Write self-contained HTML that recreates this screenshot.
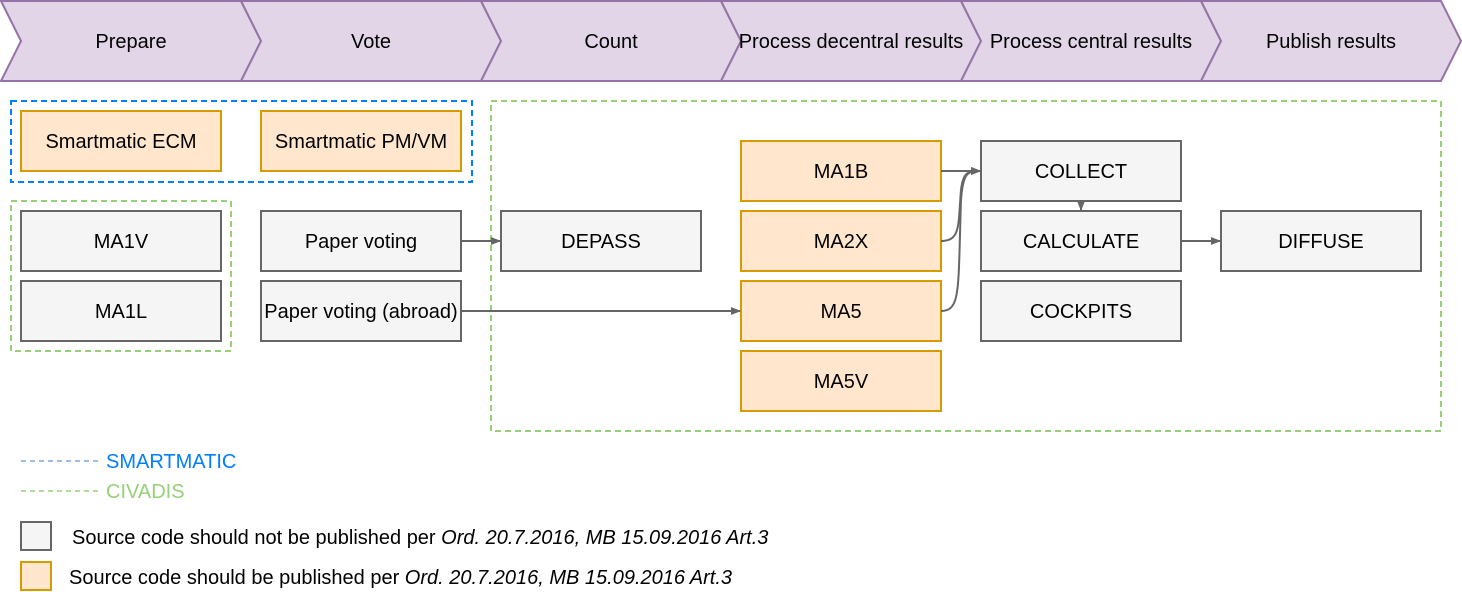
<!DOCTYPE html>
<html><head><meta charset="utf-8"><style>
html,body{margin:0;padding:0;background:#fff}
svg{display:block}
text{font-family:"Liberation Sans",Arial,sans-serif;font-size:20px;fill:#000}
</style></head><body>
<svg width="1462" height="592" viewBox="0 0 1462 592" xmlns="http://www.w3.org/2000/svg">
<defs>
<marker id="a" markerWidth="10" markerHeight="8" refX="9" refY="4" orient="auto" markerUnits="userSpaceOnUse">
<path d="M0,0 L10,4 L0,8 Z" fill="#666"/></marker>
</defs>
<g fill="#e1d5e7" stroke="#9673a6" stroke-width="2">
<polygon points="1,1 241,1 261,41 241,81 1,81 21,41"/>
<polygon points="241,1 481,1 501,41 481,81 241,81 261,41"/>
<polygon points="481,1 721,1 741,41 721,81 481,81 501,41"/>
<polygon points="721,1 961,1 981,41 961,81 721,81 741,41"/>
<polygon points="961,1 1201,1 1221,41 1201,81 961,81 981,41"/>
<polygon points="1201,1 1441,1 1461,41 1441,81 1201,81 1221,41"/>
</g>
<g text-anchor="middle">
<text x="131" y="48">Prepare</text>
<text x="371" y="48">Vote</text>
<text x="611" y="48">Count</text>
<text x="851" y="48">Process decentral results</text>
<text x="1091" y="48">Process central results</text>
<text x="1331" y="48">Publish results</text>
</g>
<rect x="11" y="101" width="461" height="81" fill="none" stroke="#007fff" stroke-width="2" stroke-dasharray="6,4"/>
<rect x="11" y="201" width="220" height="150" fill="none" stroke="#97d077" stroke-width="2" stroke-dasharray="6,4"/>
<rect x="491" y="101" width="950" height="330" fill="none" stroke="#97d077" stroke-width="2" stroke-dasharray="6,4"/>
<g fill="#ffe6cc" stroke="#d79b00" stroke-width="2">
<rect x="21" y="111" width="200" height="60"/>
<rect x="261" y="111" width="200" height="60"/>
<rect x="741" y="141" width="200" height="60"/>
<rect x="741" y="211" width="200" height="60"/>
<rect x="741" y="281" width="200" height="60"/>
<rect x="741" y="351" width="200" height="60"/>
<rect x="21" y="562" width="30" height="28"/>
</g>
<g fill="#f5f5f5" stroke="#666" stroke-width="2">
<rect x="21" y="211" width="200" height="60"/>
<rect x="21" y="281" width="200" height="60"/>
<rect x="261" y="211" width="200" height="60"/>
<rect x="261" y="281" width="200" height="60"/>
<rect x="501" y="211" width="200" height="60"/>
<rect x="981" y="141" width="200" height="60"/>
<rect x="981" y="211" width="200" height="60"/>
<rect x="981" y="281" width="200" height="60"/>
<rect x="1221" y="211" width="200" height="60"/>
<rect x="21" y="522" width="30" height="28"/>
</g>
<g text-anchor="middle">
<text x="121" y="148">Smartmatic ECM</text>
<text x="361" y="148">Smartmatic PM/VM</text>
<text x="121" y="248">MA1V</text>
<text x="121" y="318">MA1L</text>
<text x="361" y="248">Paper voting</text>
<text x="361" y="318">Paper voting (abroad)</text>
<text x="601" y="248">DEPASS</text>
<text x="841" y="178">MA1B</text>
<text x="841" y="248">MA2X</text>
<text x="841" y="318">MA5</text>
<text x="841" y="388">MA5V</text>
<text x="1081" y="178">COLLECT</text>
<text x="1081" y="248">CALCULATE</text>
<text x="1081" y="318">COCKPITS</text>
<text x="1321" y="248">DIFFUSE</text>
</g>
<g fill="none" stroke="#666" stroke-width="2">
<path d="M461,241 L500,241" marker-end="url(#a)"/>
<path d="M461,311 L740,311" marker-end="url(#a)"/>
<path d="M941,171 L980,171" marker-end="url(#a)"/>
<path d="M941,241 C961,241 958,225 961,190 C963,172 968,171 980,171" marker-end="url(#a)"/>
<path d="M941,311 C961,311 958,290 961,200 C963,172 968,171 980,171" marker-end="url(#a)"/>
<path d="M1081,201 L1081,210" marker-end="url(#a)"/>
<path d="M1181,241 L1220,241" marker-end="url(#a)"/>
</g>
<line x1="21" y1="461" x2="101" y2="461" stroke="#7ea6e0" stroke-width="1.5" stroke-dasharray="5,4"/>
<line x1="21" y1="491" x2="101" y2="491" stroke="#97d077" stroke-width="1.5" stroke-dasharray="5,4"/>
<text x="106" y="468" style="fill:#007fff">SMARTMATIC</text>
<text x="106" y="498" style="fill:#97d077">CIVADIS</text>
<text x="72" y="544">Source code should not be published per <tspan font-style="italic">Ord. 20.7.2016, MB 15.09.2016 Art.3</tspan></text>
<text x="69" y="584">Source code should be published per <tspan font-style="italic">Ord. 20.7.2016, MB 15.09.2016 Art.3</tspan></text>
</svg>
</body></html>
